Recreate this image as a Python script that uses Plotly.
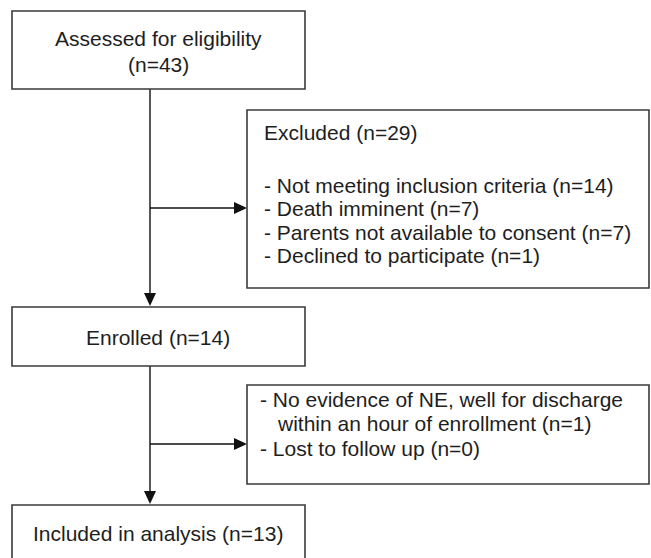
import plotly.graph_objects as go

# Flow stages and counts
stage_labels = ["Assessed for eligibility", "Enrolled", "Included in analysis"]
stage_n = [43, 14, 13]
excluded_total = 29
excluded_reasons = ["Not meeting inclusion criteria", "Death imminent",
                    "Parents not available to consent", "Declined to participate"]
excluded_n = [14, 7, 7, 1]
dropout_reasons = ["No evidence of NE, well for discharge|within an hour of enrollment",
                   "Lost to follow up"]
dropout_n = [1, 0]

W, H = 651, 558
FONT = dict(family="Arial, Liberation Sans, sans-serif", size=21, color="#1e1e1e")
BOX = dict(color="#3a3a3a", width=1.6)
LINE = dict(color="#111111", width=1.4)

fig = go.Figure()
shapes = []
ann = []

def box(x0, y0, x1, y1):
    shapes.append(dict(type="rect", x0=x0, y0=y0, x1=x1, y1=y1, xref="x", yref="y",
                       line=BOX, fillcolor="white", layer="above"))

def text(x, y, s, anchor="center"):
    ann.append(dict(x=x, y=y, xref="x", yref="y", text=s, showarrow=False,
                    xanchor=anchor, yanchor="middle", font=FONT))

def line(x0, y0, x1, y1):
    shapes.append(dict(type="line", x0=x0, y0=y0, x1=x1, y1=y1, xref="x", yref="y", line=LINE))

def arrow_down(x, y):
    shapes.append(dict(type="path", path=f"M {x-6},{y-13} L {x+6},{y-13} L {x},{y} Z",
                       xref="x", yref="y", fillcolor="#111111", line=dict(width=0)))

def arrow_right(x, y):
    shapes.append(dict(type="path", path=f"M {x-13},{y-6} L {x-13},{y+6} L {x},{y} Z",
                       xref="x", yref="y", fillcolor="#111111", line=dict(width=0)))

cx = 150
# connectors
line(cx, 89, cx, 300)
arrow_down(cx, 306)
line(cx, 208, 240, 208)
arrow_right(cx + 97, 208)
line(cx, 366, cx, 498)
arrow_down(cx, 504)
line(cx, 444, 240, 444)
arrow_right(cx + 97, 444)

# Box 1
box(12, 11, 305, 89)
text(158, 38, stage_labels[0])
text(158, 64, f"(n={stage_n[0]})")

# Excluded box
box(247, 110, 649, 288)
text(262, 132, f"Excluded (n={excluded_total})", "left")
for i, (r, n) in enumerate(zip(excluded_reasons, excluded_n)):
    text(262, 185 + i * 23.5, f"- {r} (n={n})", "left")

# Enrolled box
box(12, 307, 305, 366)
text(158, 337, f"{stage_labels[1]} (n={stage_n[1]})")

# Dropout box
box(247, 385, 649, 484)
l1, l2 = dropout_reasons[0].split("|")
text(258, 399, f"- {l1}", "left")
text(275, 423, f"{l2} (n={dropout_n[0]})", "left")
text(258, 448, f"- {dropout_reasons[1]} (n={dropout_n[1]})", "left")

# Included box
box(12, 505, 305, 580)
text(158, 533, f"{stage_labels[2]} (n={stage_n[2]})")

fig.update_layout(
    width=W, height=H, margin=dict(l=0, r=0, t=0, b=0),
    paper_bgcolor="white", plot_bgcolor="white",
    xaxis=dict(range=[0, W], visible=False, fixedrange=True),
    yaxis=dict(range=[H, 0], visible=False, fixedrange=True),
    shapes=shapes, annotations=ann, showlegend=False, hovermode=False,
)
fig.write_html("out.html", config={"displayModeBar": False, "staticPlot": True},
               post_script="document.body.style.margin='0';document.body.style.overflow='hidden';")
